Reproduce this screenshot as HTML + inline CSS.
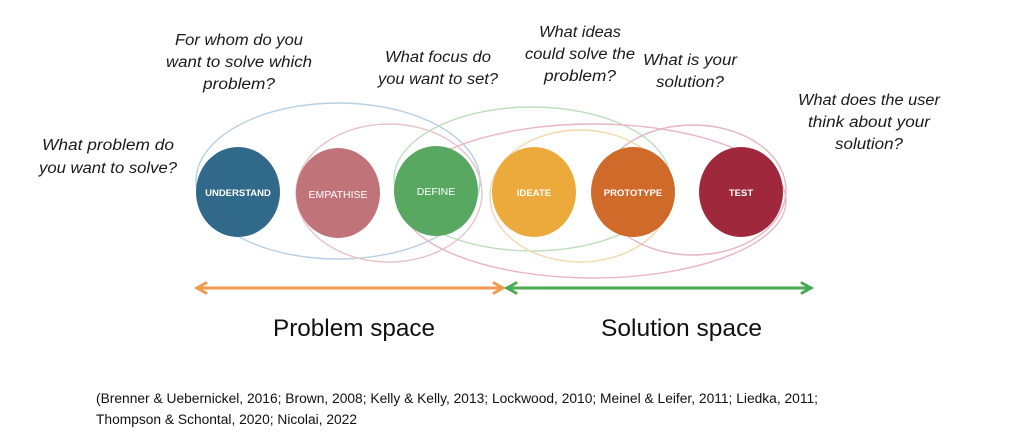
<!DOCTYPE html>
<html><head><meta charset="utf-8"><style>
html,body{margin:0;padding:0;background:#fff;}
svg{display:block;}
.q{font-family:"Liberation Sans",sans-serif;font-style:italic;font-size:15.5px;fill:#1a1a1a;}
.c{font-family:"Liberation Sans",sans-serif;font-size:9.5px;font-weight:bold;fill:#fff;}
.s{font-family:"Liberation Sans",sans-serif;font-size:24px;fill:#111;}
.r{font-family:"Liberation Sans",sans-serif;font-size:13.5px;fill:#111;}
</style></head><body>
<svg width="1024" height="436" viewBox="0 0 1024 436" xmlns="http://www.w3.org/2000/svg">
<g fill="none" stroke-width="1.4" opacity="0.75">
<ellipse cx="338" cy="181" rx="142" ry="78" stroke="#9fc0d8"/>
<ellipse cx="389" cy="193" rx="93" ry="69" stroke="#e0b0b6"/>
<ellipse cx="532" cy="179" rx="138" ry="72" stroke="#a8d4a8"/>
<ellipse cx="580" cy="196" rx="90" ry="66" stroke="#f0cc90"/>
<ellipse cx="593" cy="201" rx="193" ry="77" stroke="#e0a0b0"/>
<ellipse cx="693" cy="190" rx="93" ry="65" stroke="#d8a0a8"/>
</g>
<ellipse cx="238" cy="192" rx="42" ry="45" fill="#31698b"/>
<ellipse cx="338" cy="193" rx="42" ry="45" fill="#c07378"/>
<ellipse cx="436" cy="191" rx="42" ry="45" fill="#58a862"/>
<ellipse cx="534" cy="192" rx="42" ry="45" fill="#eca93c"/>
<ellipse cx="633" cy="192" rx="42" ry="45" fill="#d06a2a"/>
<ellipse cx="741" cy="192" rx="42" ry="45" fill="#a0283c"/>
<text class="c" x="238" y="196" text-anchor="middle">UNDERSTAND</text>
<text class="c" x="338" y="198" text-anchor="middle" style="font-weight:normal;font-size:10.5px">EMPATHISE</text>
<text class="c" x="436" y="195" text-anchor="middle" style="font-weight:normal;font-size:10.5px">DEFINE</text>
<text class="c" x="534" y="196" text-anchor="middle">IDEATE</text>
<text class="c" x="633" y="196" text-anchor="middle">PROTOTYPE</text>
<text class="c" x="741" y="196" text-anchor="middle">TEST</text>
<g stroke-width="3" stroke-linecap="round">
<line x1="198" y1="288" x2="502" y2="288" stroke="#ee9a50"/>
<polyline points="206,283 197,288 206,293" fill="none" stroke="#ee9a50"/>
<polyline points="494,283 503,288 494,293" fill="none" stroke="#ee9a50"/>
<line x1="508" y1="288" x2="810" y2="288" stroke="#4caa56"/>
<polyline points="516,283 507,288 516,293" fill="none" stroke="#4caa56"/>
<polyline points="802,283 811,288 802,293" fill="none" stroke="#4caa56"/>
</g>
<g class="q" text-anchor="middle">
<text x="108" y="150" textLength="132" lengthAdjust="spacingAndGlyphs">What problem do</text>
<text x="108" y="173" textLength="138" lengthAdjust="spacingAndGlyphs">you want to solve?</text>
<text x="239" y="45" textLength="128" lengthAdjust="spacingAndGlyphs">For whom do you</text>
<text x="239" y="67" textLength="146" lengthAdjust="spacingAndGlyphs">want to solve which</text>
<text x="239" y="89" textLength="72" lengthAdjust="spacingAndGlyphs">problem?</text>
<text x="438" y="62" textLength="106" lengthAdjust="spacingAndGlyphs">What focus do</text>
<text x="438" y="84" textLength="120" lengthAdjust="spacingAndGlyphs">you want to set?</text>
<text x="580" y="37" textLength="82" lengthAdjust="spacingAndGlyphs">What ideas</text>
<text x="580" y="59" textLength="110" lengthAdjust="spacingAndGlyphs">could solve the</text>
<text x="580" y="81" textLength="72" lengthAdjust="spacingAndGlyphs">problem?</text>
<text x="690" y="65" textLength="94" lengthAdjust="spacingAndGlyphs">What is your</text>
<text x="690" y="87" textLength="68" lengthAdjust="spacingAndGlyphs">solution?</text>
<text x="869" y="105" textLength="142" lengthAdjust="spacingAndGlyphs">What does the user</text>
<text x="869" y="127" textLength="122" lengthAdjust="spacingAndGlyphs">think about your</text>
<text x="869" y="149" textLength="68" lengthAdjust="spacingAndGlyphs">solution?</text>
</g>
<text class="s" x="273" y="336" textLength="162" lengthAdjust="spacingAndGlyphs">Problem space</text>
<text class="s" x="601" y="336" textLength="161" lengthAdjust="spacingAndGlyphs">Solution space</text>
<text class="r" x="96" y="403" textLength="722" lengthAdjust="spacingAndGlyphs">(Brenner &amp; Uebernickel, 2016; Brown, 2008; Kelly &amp; Kelly, 2013; Lockwood, 2010; Meinel &amp; Leifer, 2011; Liedka, 2011;</text>
<text class="r" x="96" y="424" textLength="261" lengthAdjust="spacingAndGlyphs">Thompson &amp; Schontal, 2020; Nicolai, 2022</text>
</svg>
</body></html>
